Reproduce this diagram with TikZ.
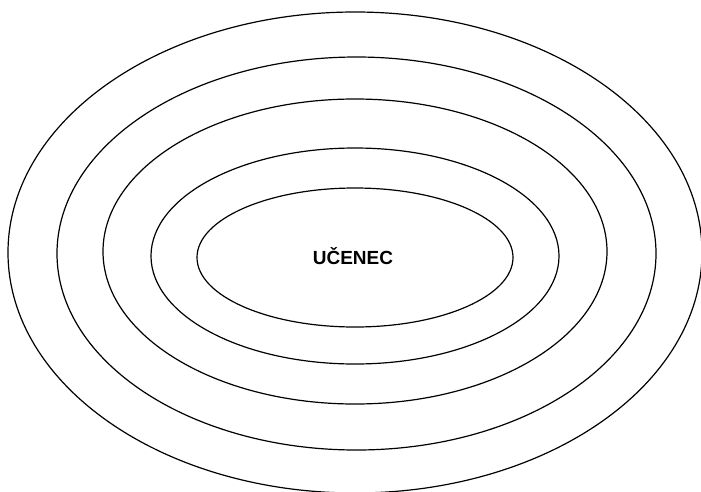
\documentclass[tikz,border=0pt]{standalone}
\usepackage{fontspec}
\setmainfont{Liberation Sans}
\begin{document}
\begin{tikzpicture}[x=1pt,y=-1pt,line width=1.2pt]
\useasboundingbox (0,0) rectangle (701,491);
%rings
\draw (355,252.5) ellipse [x radius=347, y radius=240.5];
\draw (356.5,253.5) ellipse [x radius=299.5, y radius=196.5];
\draw (355,251.5) ellipse [x radius=252, y radius=152.5];
\draw (355,256) ellipse [x radius=204, y radius=108];
\draw (355,257.5) ellipse [x radius=158, y radius=69.5];
%label
\node[font=\fontsize{19}{22}\selectfont\bfseries] (ucenec) at (353,256) {UČENEC};
\end{tikzpicture}
\end{document}
